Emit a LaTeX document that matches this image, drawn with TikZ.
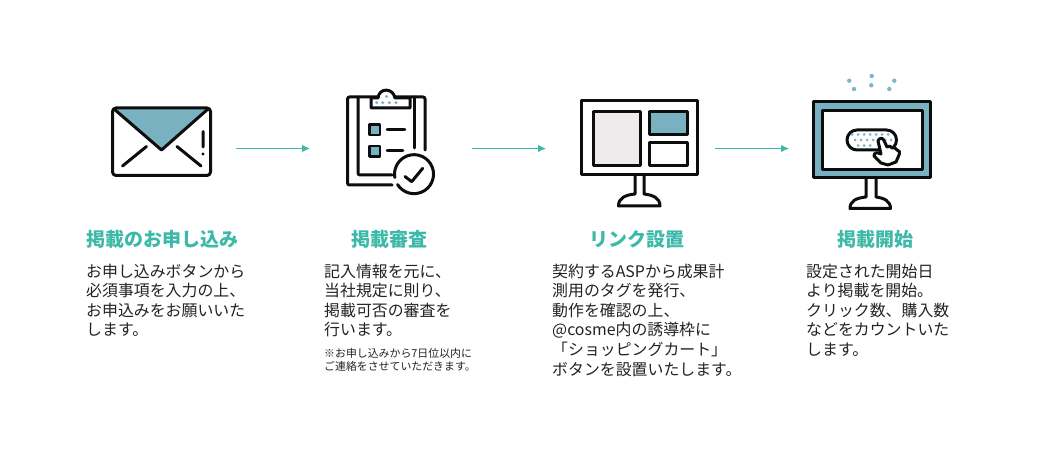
\documentclass[tikz,border=0pt]{standalone}
\usepackage{fontspec}
\setmainfont{Noto Sans CJK JP}
\usetikzlibrary{arrows.meta}
\definecolor{teal1}{HTML}{3DB9A9}
\definecolor{blue1}{HTML}{78B1BF}
\definecolor{dot1}{HTML}{7FB4CB}
\definecolor{grey1}{HTML}{EDEBEC}
\definecolor{ink}{HTML}{0D0D0D}
\definecolor{txt}{HTML}{222222}
\tikzset{
 icon/.style={draw=ink,line width=3pt,line join=round,line cap=round},
 thin icon/.style={draw=ink,line width=2.7pt,line join=round,line cap=round},
 flow/.style={draw=teal1,line width=1.1pt,-{Latex[length=8pt,width=7.5pt]}},
 ttl/.style={inner sep=0pt,anchor=base,font=\fontsize{19}{22}\bfseries,text=teal1},
 body/.style={inner sep=0pt,anchor=north west,align=left,text=txt,font=\fontsize{15.9}{19.6}\selectfont},
 note/.style={inner sep=0pt,anchor=north west,align=left,text=txt,font=\fontsize{10.9}{13}\selectfont},
 pt/.style={fill=dot1,draw=none,circle,inner sep=0pt,minimum size=4.4pt}
}
\begin{document}
\begin{tikzpicture}[x=1pt,y=-1pt]
\useasboundingbox (0,0) rectangle (1040,454);
% envelope
\fill[blue1] (114,109) -- (161.5,150) -- (208,109) -- cycle;
\draw[icon,rounded corners=3.5pt] (112.5,108) rectangle (210.5,175.5);
\draw[icon] (114,109) -- (161.5,150) -- (208,109);
\draw[icon] (122.5,166) -- (146.5,146.5) (177,146.5) -- (201,166) (203,131.5) -- (203,147);
\fill[ink] (203,154) circle (1.7);
% clipboard
\draw[icon,rounded corners=2pt] (392,185) -- (347.5,185) -- (347.5,97) -- (425,97) -- (425,150);
\draw[icon,rounded corners=2pt] (358,97) -- (358,175) -- (392,175);
\draw[icon] (414,97) -- (414,148);
\draw[icon,fill=white] (371,98) -- (378,98) .. controls (379,87.5) and (393,87.5) .. (395,98) -- (410,98) -- (410,108) -- (371,108) -- cycle;
\foreach \p in {(376.7,102.7),(382.7,102.7),(389.3,102.7),(396,102.7),(386.5,96.5)} \node[pt,minimum size=3.4pt] at \p {};
\draw[thin icon,fill=blue1] (369.5,124.5) rectangle (380,135);
\draw[thin icon,fill=blue1] (369.5,146) rectangle (380,156.5);
\draw[thin icon] (387,129.5) -- (405,129.5) (387,150.7) -- (403,150.7);
\draw[icon] (397.5,184.5) arc[start angle=148,end angle=-190,radius=19.5];
\draw[icon] (405,176.5) -- (411.7,181.7) -- (422.7,168.3);
% monitor 1
\draw[icon] (581.5,100.5) rectangle (697.5,175);
\draw[icon,fill=grey1] (593.5,112) rectangle (640,166);
\draw[icon,fill=blue1] (649.5,112) rectangle (687.5,135);
\draw[icon] (649.5,143) rectangle (687.5,166);
\draw[icon] (635,175) -- (635,194) .. controls (625,195) and (618.5,198) .. (618.5,206) -- (660,206) .. controls (660,198) and (653,195) .. (644,194) -- (644,175);
% monitor 2
\draw[icon,fill=blue1] (813.5,101.5) rectangle (930.5,178);
\draw[icon,fill=white] (822,110.5) rectangle (922.5,170);
\draw[icon] (866,178) -- (866,197) .. controls (856,198) and (850,201) .. (850,208.5) -- (890.5,208.5) .. controls (890.5,201) and (884,198) .. (876,197) -- (876,178);
\draw[icon,fill=white,rounded corners=10pt] (847,130) rectangle (896.5,150);
\foreach \x in {852,858,864,870,876,882,888} \node[pt,minimum size=3pt] at (\x,134.5) {};
\foreach \x in {855,861,867,873,879,885,891} \node[pt,minimum size=3pt] at (\x,140) {};
\foreach \x in {858,864,870} \node[pt,minimum size=3pt] at (\x,145.5) {};
\draw[icon,fill=white] (878,141) .. controls (879,137.5) and (883,137.5) .. (884,140.5) -- (887,147) .. controls (889,145.5) and (891,146) .. (892,148) .. controls (894,147) and (896,148) .. (897,150) .. controls (899.5,150) and (900,152) .. (899,155) -- (896,162) -- (888,165) -- (881,163) -- (874,156) .. controls (874,152.5) and (877,152) .. (881,154) -- cycle;
\foreach \p in {(849.3,80.7),(871.7,76),(894.3,80.7),(854,89),(871.3,85.3),(889.3,89)} \node[pt] at \p {};
% arrows
\coordinate (a1s) at (236,148.5); \coordinate (a1e) at (310,148.5);
\coordinate (a2s) at (472,148.5); \coordinate (a2e) at (546,148.5);
\coordinate (a3s) at (715,148.5); \coordinate (a3e) at (789,148.5);
\draw[flow] (a1s) -- (a1e);
\draw[flow] (a2s) -- (a2e);
\draw[flow] (a3s) -- (a3e);
% text
\node[ttl] (t1) at (162,246) {掲載のお申し込み};
\node[ttl] (t2) at (389.5,246) {掲載審査};
\node[ttl] (t3) at (637,246) {リンク設置};
\node[ttl] (t4) at (875,246) {掲載開始};
\node[body] (b1) at (86,263.5) {お申し込みボタンから\\必須事項を入力の上、\\お申込みをお願いいた\\します。};
\node[body] (b2) at (324,263.5) {記入情報を元に、\\当社規定に則り、\\掲載可否の審査を\\行います。};
\node[note] (n2) at (324,348) {※お申し込みから7日位以内に\\ご連絡をさせていただきます。};
\node[body] (b3) at (552,263.5) {契約するASPから成果計\\測用のタグを発行、\\動作を確認の上、\\@cosme内の誘導枠に\\「ショッピングカート」\\ボタンを設置いたします。};
\node[body] (b4) at (806,263.5) {設定された開始日\\より掲載を開始。\\クリック数、購入数\\などをカウントいた\\します。};
\end{tikzpicture}
\end{document}
